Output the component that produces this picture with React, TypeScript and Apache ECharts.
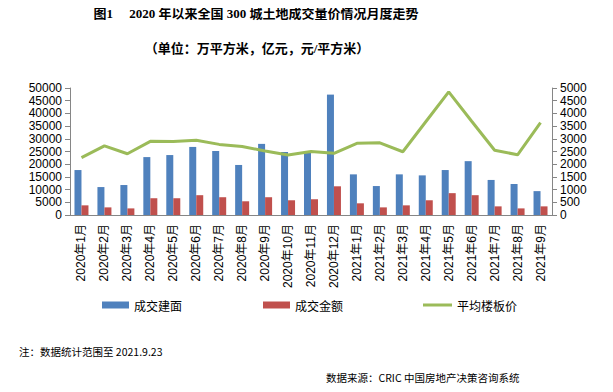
import React, { useEffect, useRef } from "react";
import * as echarts from "echarts";

const categories = [
  "2020年1月", "2020年2月", "2020年3月", "2020年4月", "2020年5月", "2020年6月",
  "2020年7月", "2020年8月", "2020年9月", "2020年10月", "2020年11月", "2020年12月",
  "2021年1月", "2021年2月", "2021年3月", "2021年4月", "2021年5月", "2021年6月",
  "2021年7月", "2021年8月", "2021年9月",
];
const areaValues = [
  17700, 11000, 11800, 22800, 23600, 26800, 25200, 19700, 28000, 24800, 24400, 47400,
  16000, 11400, 16000, 15600, 17700, 21200, 13800, 12200, 9400,
];
const amountValues = [
  3800, 3000, 2600, 6600, 6600, 7800, 7000, 5400, 7000, 5800, 6200, 11300,
  4600, 3000, 3800, 5800, 8600, 7800, 3400, 2600, 3400,
];
const priceValues = [
  2260, 2720, 2410, 2900, 2890, 2940, 2780, 2700, 2520, 2360, 2500, 2430,
  2820, 2840, 2490, 3670, 4850, 3690, 2550, 2370, 3640,
];
const seriesNames = ["成交建面", "成交金额", "平均楼板价"];
const titleText = "图1　 2020 年以来全国 300 城土地成交量价情况月度走势";
const subtitleText = "（单位：万平方米，亿元，元/平方米）";
const noteText = "注：数据统计范围至 2021.9.23";
const sourceText = "数据来源：CRIC 中国房地产决策咨询系统";

const axisColor = "#868686";
const labelFont = "'Liberation Sans', Arial, 'Noto Sans CJK SC', sans-serif";
const cjkFont = "'Noto Sans CJK SC', sans-serif";
const titleFont = "'Liberation Serif', 'Noto Sans CJK SC', serif";

export default function App() {
  const ref = useRef<HTMLDivElement>(null);
  useEffect(() => {
    if (!ref.current) return;
    const chart = echarts.init(ref.current, undefined, { renderer: "svg" });
    const legendCommon = {
      top: 294,
      itemGap: 6,
      textStyle: { fontSize: 12, color: "#000", fontFamily: cjkFont },
    };
    const plain = (v: number) => String(v);
    chart.setOption({
      animation: false,
      backgroundColor: "#fff",
      grid: { left: 70, right: 61, top: 88, bottom: 177, containLabel: false },
      legend: [
        { ...legendCommon, left: 97, data: [{ name: seriesNames[0], icon: "rect" }], itemWidth: 27, itemHeight: 7 },
        { ...legendCommon, left: 258, data: [{ name: seriesNames[1], icon: "rect" }], itemWidth: 27, itemHeight: 7 },
        { ...legendCommon, left: 418, data: [{ name: seriesNames[2], icon: "rect" }], itemWidth: 29, itemHeight: 3 },
      ],
      xAxis: {
        type: "category",
        data: categories,
        boundaryGap: true,
        axisLine: { lineStyle: { color: axisColor } },
        axisTick: { alignWithLabel: false, length: 5, lineStyle: { color: axisColor } },
        axisLabel: {
          rotate: 90,
          interval: 0,
          margin: 9,
          fontSize: 12,
          color: "#000",
          fontFamily: labelFont,
        },
      },
      yAxis: [
        {
          type: "value",
          min: 0,
          max: 50000,
          interval: 5000,
          splitLine: { show: false },
          axisLine: { show: true, lineStyle: { color: axisColor } },
          axisTick: { show: true, length: 5, lineStyle: { color: axisColor } },
          axisLabel: { margin: 8, fontSize: 12, color: "#000", fontFamily: labelFont, formatter: plain },
        },
        {
          type: "value",
          min: 0,
          max: 5000,
          interval: 500,
          position: "right",
          splitLine: { show: false },
          axisLine: { show: true, lineStyle: { color: axisColor } },
          axisTick: { show: true, length: 5, lineStyle: { color: axisColor } },
          axisLabel: { margin: 8, fontSize: 12, color: "#000", fontFamily: labelFont, formatter: plain },
        },
      ],
      series: [
        {
          name: seriesNames[0],
          type: "bar",
          data: areaValues,
          barWidth: 7,
          barGap: "0%",
          itemStyle: { color: "#4F81BD" },
        },
        {
          name: seriesNames[1],
          type: "bar",
          data: amountValues,
          barWidth: 7,
          barGap: "0%",
          itemStyle: { color: "#C0504D" },
        },
        {
          name: seriesNames[2],
          type: "line",
          yAxisIndex: 1,
          data: priceValues,
          symbol: "none",
          lineStyle: { color: "#9BBB59", width: 3 },
          itemStyle: { color: "#9BBB59" },
          z: 5,
        },
      ],
      graphic: [
        {
          type: "text",
          x: 256,
          y: 13,
          style: {
            text: titleText,
            font: `bold 13px ${titleFont}`,
            fill: "#000",
            textAlign: "center",
            textVerticalAlign: "middle",
          },
        },
        {
          type: "text",
          x: 257,
          y: 48,
          style: {
            text: subtitleText,
            font: `bold 13px ${titleFont}`,
            fill: "#000",
            textAlign: "center",
            textVerticalAlign: "middle",
          },
        },
        {
          type: "text",
          x: 19,
          y: 351,
          style: {
            text: noteText,
            font: `10.5px ${cjkFont}`,
            fill: "#000",
            textAlign: "left",
            textVerticalAlign: "middle",
          },
        },
        {
          type: "text",
          x: 326,
          y: 377,
          style: {
            text: sourceText,
            font: `10.5px ${cjkFont}`,
            fill: "#000",
            textAlign: "left",
            textVerticalAlign: "middle",
          },
        },
      ],
    });
    return () => chart.dispose();
  }, []);
  return <div ref={ref} style={{ width: 613, height: 392, margin: -8 }} />;
}
